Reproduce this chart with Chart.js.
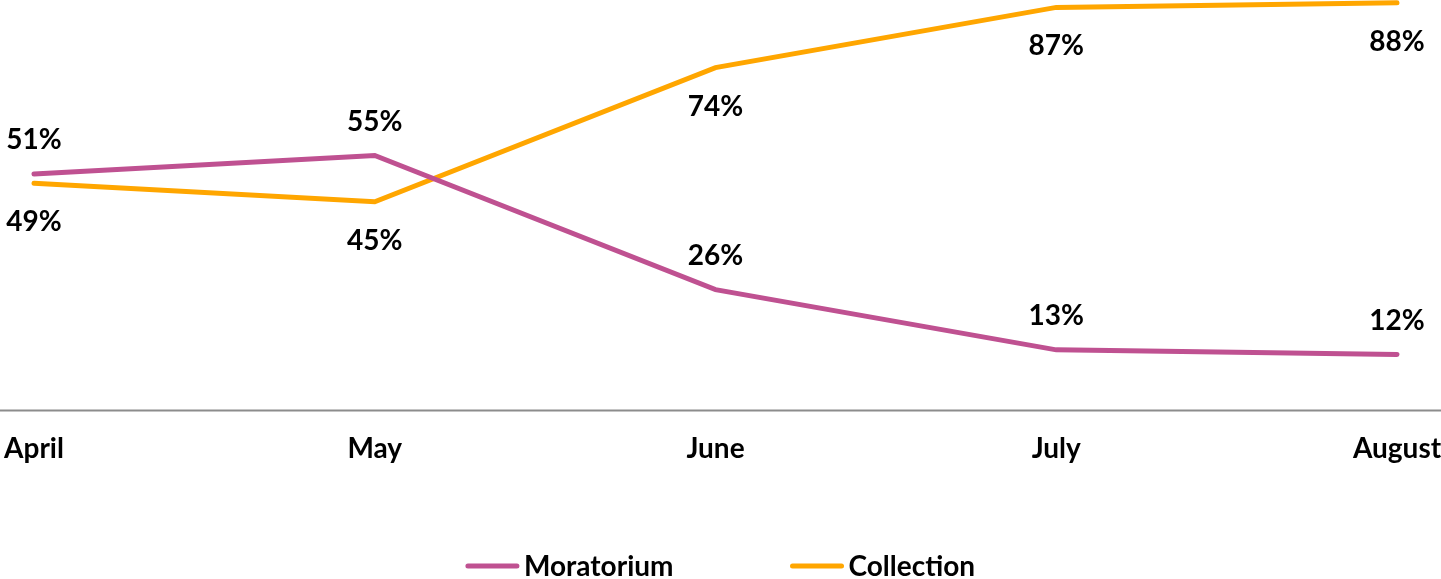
<!DOCTYPE html>
<html>
<head>
<meta charset="utf-8">
<script src="https://cdn.jsdelivr.net/npm/chart.js@4/dist/chart.umd.min.js"></script>
<style>
  html, body { margin: 0; padding: 0; background: #fff; }
  #wrap { width: 1441px; height: 579px; }
</style>
</head>
<body>
<div id="wrap"><canvas id="chart"></canvas></div>
<script>
// data
const months = ['April', 'May', 'June', 'July', 'August'];
const moratorium = [51, 55, 26, 13, 12];
const collection = [49, 45, 74, 87, 88];

const FONT = 'Lato, "Open Sans", sans-serif';
const FONT_CSS = 'bold 28px ' + FONT;

// full-width baseline at value 0
const baseline = {
    id: 'baseline',
    beforeDatasetsDraw(chart) {
        const { ctx, scales: { y } } = chart;
        const yPos = Math.round(y.getPixelForValue(0)) + 0.5;
        ctx.save();
        ctx.strokeStyle = '#8c8c8c';
        ctx.lineWidth = 2;
        ctx.beginPath();
        ctx.moveTo(0, yPos);
        ctx.lineTo(chart.width, yPos);
        ctx.stroke();
        ctx.restore();
    }
};

// value labels: moratorium above the line, collection below
const valueLabels = {
    id: 'valueLabels',
    afterDatasetsDraw(chart) {
        const { ctx } = chart;
        ctx.save();
        ctx.font = FONT_CSS;
        ctx.fillStyle = '#000';
        ctx.textAlign = 'center';
        ctx.textBaseline = 'middle';
        chart.data.datasets.forEach((ds, i) => {
            const meta = chart.getDatasetMeta(i);
            const dy = i === 0 ? -34 : 39;
            meta.data.forEach((pt, j) => {
                ctx.fillText(ds.data[j] + '%', pt.x, pt.y + dy);
            });
        });
        ctx.restore();
    }
};

// legend drawn by hand so the spacing matches
const lineLegend = {
    id: 'lineLegend',
    afterDraw(chart) {
        const { ctx } = chart;
        const sample = 53, gap = 5, between = 117, yMid = 566;
        ctx.save();
        ctx.font = FONT_CSS;
        const items = chart.data.datasets.map(ds => ({
            text: ds.label, color: ds.borderColor, w: ctx.measureText(ds.label).width
        }));
        let total = between * (items.length - 1);
        items.forEach(it => { total += sample + gap + it.w; });
        let x = (chart.width - total) / 2;
        items.forEach(it => {
            ctx.strokeStyle = it.color;
            ctx.lineWidth = 5;
            ctx.lineCap = 'round';
            ctx.beginPath();
            ctx.moveTo(x + 2, yMid);
            ctx.lineTo(x + sample - 2, yMid);
            ctx.stroke();
            ctx.fillStyle = '#000';
            ctx.textBaseline = 'middle';
            ctx.textAlign = 'left';
            ctx.fillText(it.text, x + sample + gap, yMid + 1);
            x += sample + gap + it.w + between;
        });
        ctx.restore();
    }
};

new Chart(document.getElementById('chart'), {
    type: 'line',
    data: {
        labels: months,
        datasets: [
            {
                label: 'Moratorium',
                data: moratorium,
                borderColor: '#bf5191',
                backgroundColor: '#bf5191',
                borderWidth: 5,
                borderCapStyle: 'round',
                pointRadius: 0,
                tension: 0,
                clip: false
            },
            {
                label: 'Collection',
                data: collection,
                borderColor: '#ffa600',
                backgroundColor: '#ffa600',
                borderWidth: 5,
                borderCapStyle: 'round',
                pointRadius: 0,
                tension: 0,
                clip: false
            }
        ]
    },
    options: {
        responsive: true,
        maintainAspectRatio: false,
        animation: false,
        layout: { padding: { left: 34, right: 44, top: 0, bottom: 99 } },
        plugins: {
            tooltip: { enabled: false },
            legend: { display: false }
        },
        scales: {
            x: {
                offset: false,
                grid: { display: false, drawTicks: false },
                border: { display: false },
                ticks: {
                    padding: 22,
                    color: '#000',
                    maxRotation: 0,
                    autoSkip: false,
                    font: { family: FONT, size: 28, weight: 'bold' }
                },
                afterFit(scale) {
                    scale.height = 70;
                    scale.paddingLeft = 0;
                    scale.paddingRight = 0;
                }
            },
            y: {
                display: false,
                min: 0,
                max: 88.6
            }
        }
    },
    plugins: [baseline, valueLabels, lineLegend]
});
</script>
</body>
</html>
